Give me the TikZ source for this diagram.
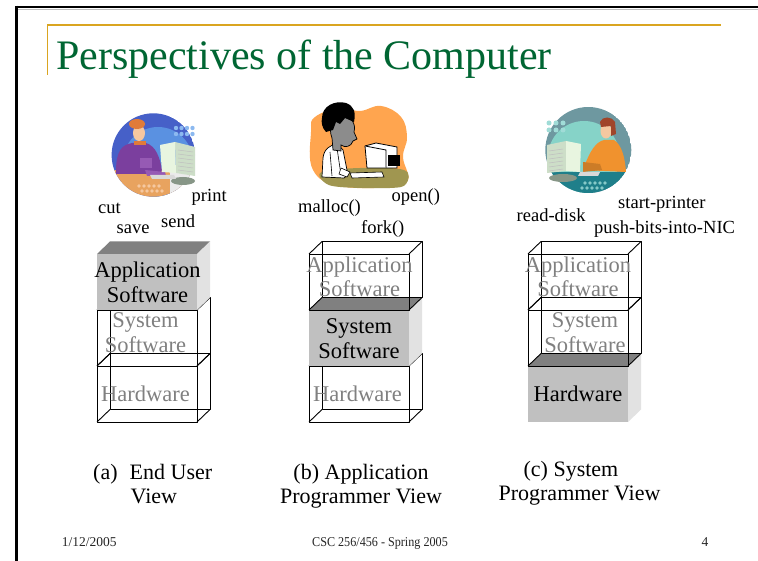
\documentclass[tikz,border=0pt]{standalone}
\usepackage{fontspec}
\setmainfont{Liberation Serif}
\definecolor{titlegreen}{RGB}{0,102,51}
\definecolor{gold}{RGB}{218,165,32}
\definecolor{facegray}{RGB}{192,192,192}
\definecolor{topgray}{RGB}{128,128,128}
\definecolor{sidegray}{RGB}{226,226,226}
\definecolor{txtgray}{RGB}{128,128,128}
\definecolor{blueA}{RGB}{70,96,200}
\definecolor{blueB}{RGB}{90,145,225}
\definecolor{blueDot}{RGB}{140,185,240}
\definecolor{tan}{RGB}{232,163,95}
\definecolor{peach}{RGB}{245,200,160}
\definecolor{purp}{RGB}{123,63,158}
\definecolor{purpL}{RGB}{150,90,180}
\definecolor{hairO}{RGB}{224,123,57}
\definecolor{pale}{RGB}{232,245,224}
\definecolor{paleD}{RGB}{205,222,200}
\definecolor{baseG}{RGB}{135,150,135}
\definecolor{orangeB}{RGB}{255,165,79}
\definecolor{olive}{RGB}{160,150,80}
\definecolor{boyface}{RGB}{140,140,140}
\definecolor{tealT}{RGB}{110,152,160}
\definecolor{aqua}{RGB}{134,211,200}
\definecolor{tealD}{RGB}{31,127,138}
\definecolor{tealDot}{RGB}{160,220,215}
\definecolor{auburn}{RGB}{160,69,42}
\definecolor{sweater}{RGB}{240,146,46}
\tikzset{
  wire/.style={draw=black,line width=0.9pt,line join=round},
  lbl/.style={font=\fontsize{22.5}{25}\selectfont,anchor=base,inner sep=0pt},
  lblg/.style={lbl,text=txtgray},
  op/.style={font=\fontsize{18.5}{20}\selectfont,anchor=base west,inner sep=0pt},
  captxt/.style={font=\fontsize{22}{25}\selectfont,anchor=base west,inner sep=0pt},
  captxtc/.style={font=\fontsize{22}{25}\selectfont,anchor=base,inner sep=0pt},
  foot/.style={font=\fontsize{13.5}{16}\selectfont,anchor=base,inner sep=0pt,text=black!85},
  wirebox/.pic={
    \draw[wire] (0,0) rectangle (100,56);
    \draw[wire] (13,-12.5) rectangle (113,43.5);
    \draw[wire] (0,0)--(13,-12.5) (100,0)--(113,-12.5) (0,56)--(13,43.5) (100,56)--(113,43.5);
  },
  shadebox/.pic={
    \fill[facegray] (0,0) rectangle (100,56);
    \fill[topgray] (0,0)--(13,-12.5)--(113,-12.5)--(100,0)--cycle;
    \fill[sidegray] (100,0)--(113,-12.5)--(113,43.5)--(100,56)--cycle;
  }
}
\begin{document}
\begin{tikzpicture}[x=1pt,y=-1pt]
\useasboundingbox (0,0) rectangle (758,561);
\fill[white] (0,0) rectangle (758,561);
% slide frame
\draw[black!25,line width=1pt] (18,9.5)--(758,9.5);
\draw[black,line width=2.7pt] (16.5,7)--(758,7);
\draw[black,line width=2.7pt] (16.5,5.7)--(16.5,561);
% gold rule
\draw[gold,line width=1.3pt] (47.5,75)--(47.5,25)--(721,25);
% title
\node[font=\fontsize{42}{46}\selectfont,text=titlegreen,anchor=base west,inner sep=0pt] (title) at (56,70) {Perspectives of the Computer};

% ---------- clip art (a) ----------
\begin{scope}
  \clip (105,100) rectangle (195.5,205);
  \clip (153.3,155) circle (41.7);
  \fill[blueA] (153.3,155) circle (41.7);
  \fill[blueB] (158,162) circle (35);
  \fill[tan] (100,170) rectangle (200,205);
  \fill[black!8] (170,172) rectangle (200,205);
\end{scope}
\foreach \i in {0,...,3}{\foreach \j in {0,1}{\fill[blueDot] (176+5.5*\i,128+6*\j) circle (2.2);}}
\foreach \i in {0,...,4}{\fill[peach] (139+5*\i,186) circle (1.8); \fill[peach] (142+5*\i,191) circle (1.8);}
% man
\fill[purp] (116,172) .. controls (116,150) and (122,145) .. (132,143) -- (146,143) .. controls (156,146) and (160,158) .. (162,170) -- (160,174) -- (116,174) -- cycle;
\fill[purpL] (140,158) rectangle (152,168);
\fill[purpL] (145,170) -- (165,172) -- (166,176) -- (147,176) -- cycle;
\fill[hairO] (134,141) rectangle (146,145);
\fill[peach] (139,133) ellipse (6 and 8);
\fill[hairO] (137,124) ellipse (8 and 5);
% monitor
\fill[baseG] (183,181) ellipse (12 and 4);
\fill[paleD] (175,142) -- (195,147) -- (195,176) -- (176,173) -- cycle;
\foreach \k in {0,...,5}{\draw[black!25,line width=0.5pt] (178,150+4*\k)--(193,152+4*\k);}
\fill[pale] (160,145) -- (175,142) -- (176,173) -- (162,172) -- cycle;
\fill[black!15] (150,175) -- (174,175) -- (176,179) -- (152,179) -- cycle;

% ---------- clip art (b) ----------
\fill[orangeB] plot[smooth cycle,tension=0.7] coordinates {(315,117) (340,108) (360,111) (381,106) (401,117) (407,137) (403,157) (408,180) (390,187) (340,186) (313,170) (311,132)};
\fill[olive] plot[smooth cycle,tension=0.6] coordinates {(322,172) (360,168) (404,170) (406,184) (390,188) (340,187) (324,182)};
% boy
\fill[white,draw=black,line width=0.7pt] (322,177) -- (323,158) .. controls (324,149) and (330,145) .. (337,144) -- (343,150) -- (348,175) -- (344,178) -- cycle;
\draw[black,line width=0.6pt] (330,152)--(332,176) (337,148)--(341,175);
\fill[boyface,draw=black,line width=0.7pt] (333,150) -- (332,138) .. controls (328,128) and (332,117) .. (343,116) .. controls (352,117) and (356,124) .. (354,132) -- (357,139) -- (353,141) .. controls (351,147) and (345,148) .. (341,145) -- (341,151) -- cycle;
\fill[black] (322,118) .. controls (322,106) and (335,100) .. (346,103) .. controls (354,106) and (356,112) .. (354,122) -- (345,118) -- (340,124) -- (336,122) -- (333,130) -- (326,132) .. controls (322,128) and (321,122) .. (322,118) -- cycle;
% monitor
\fill[white,draw=black,line width=0.8pt] (365,146) -- (376,143) -- (397,147) -- (397,168) -- (367,168) -- cycle;
\fill[white,draw=black,line width=0.8pt] (365,146) -- (386,150) -- (386,168);
\fill[black] (388,155) rectangle (400,166);
\fill[white,draw=black,line width=0.6pt] (350,173) -- (382,172) -- (384,177) -- (352,178) -- cycle;
\fill[white,draw=black,line width=0.6pt] (341,168) -- (350,172) -- (347,177) -- (339,174) -- cycle;

% ---------- clip art (c) ----------
\begin{scope}
  \clip (545,100) rectangle (640,205);
  \clip (588.3,150) circle (43);
  \fill[tealT] (588.3,150) circle (43);
  \fill[aqua] (584,157) circle (36);
  \fill[tealD] (540,172) rectangle (640,205);
\end{scope}
\foreach \i in {0,...,2}{\foreach \j in {0,1}{\fill[tealDot] (549+7*\i,123+7*\j) circle (2.5);}}
\foreach \i in {0,...,4}{\fill[tealDot!80!tealD] (585+5*\i,183) circle (1.8); \fill[tealDot!80!tealD] (582+5*\i,188) circle (1.8);}
% woman
\fill[sweater] (583,170) .. controls (590,150) and (596,142) .. (604,140) -- (614,140) .. controls (622,145) and (625,158) .. (626,172) -- cycle;
\fill[sweater!85!black] (583,162) -- (600,164) -- (602,170) -- (583,172) -- cycle;
\fill[peach] (606,131) ellipse (5.5 and 7.5);
\fill[auburn] (600,122) .. controls (602,116) and (612,116) .. (615,122) -- (616,134) -- (611,136) -- (611,126) -- (601,127) -- cycle;
% monitor
\fill[baseG] (563,178) ellipse (14 and 4);
\fill[paleD] (547,145) -- (566,141) -- (566,171) -- (547,173) -- cycle;
\foreach \k in {0,...,5}{\draw[black!25,line width=0.5pt] (549,151+4*\k)--(563,149+4*\k);}
\fill[pale] (566,141) -- (581,144) -- (580,172) -- (566,171) -- cycle;
\fill[black!15] (580,172) -- (600,172) -- (598,176) -- (578,176) -- cycle;

% operation labels
\node[op] (cut) at (98,214) {cut};
\node[op] (save) at (116.5,234) {save};
\node[op] (send) at (161,227.5) {send};
\node[op] (print) at (191.5,202) {print};
\node[op] (malloc) at (298,213) {malloc()};
\node[op] (open) at (391.5,202) {open()};
\node[op] (fork) at (361,234) {fork()};
\node[op] (readdisk) at (516.5,221.5) {read-disk};
\node[op] (startpr) at (618,209) {start-printer};
\node[op] (pushbits) at (594,234) {push-bits-into-NIC};

% ---------- cube (a) ----------
\pic at (97,310) {wirebox};
\pic at (97,366) {wirebox};
\pic at (97,254) {shadebox};
% ---------- cube (b) ----------
\pic at (309,366) {wirebox};
\pic at (309,310) {shadebox};
\pic at (309,254) {wirebox};
% ---------- cube (c) ----------
\pic at (528,366) {shadebox};
\pic at (528,254) {wirebox};
\pic at (528,310) {wirebox};

% layer labels (a)
\node[lbl] (aApp1) at (147.5,277.7) {Application};
\node[lbl] (aApp2) at (147.5,302.7) {Software};
\node[lblg] (aSys1) at (145.5,327.7) {System};
\node[lblg] (aSys2) at (145.5,352.2) {Software};
\node[lblg] (aHw) at (145.5,401.7) {Hardware};
% layer labels (b)
\node[lblg] (bApp1) at (359.5,272.7) {Application};
\node[lblg] (bApp2) at (359.5,296.7) {Software};
\node[lbl] (bSys1) at (359,333.3) {System};
\node[lbl] (bSys2) at (359,358.3) {Software};
\node[lblg] (bHw) at (357.5,401.7) {Hardware};
% layer labels (c)
\node[lblg] (cApp1) at (578,272.7) {Application};
\node[lblg] (cApp2) at (578,296.7) {Software};
\node[lblg] (cSys1) at (585,328) {System};
\node[lblg] (cSys2) at (585,352.7) {Software};
\node[lbl] (cHw) at (578,402) {Hardware};

% captions
\node[captxt] (capa1) at (93,479) {(a)\hspace{0.55em}End User};
\node[captxt] (capa2) at (130.5,503.5) {View};
\node[captxtc] (capb1) at (361,479) {(b) Application};
\node[captxtc] (capb2) at (361,503.5) {Programmer View};
\node[captxtc] (capc1) at (571,476) {(c) System};
\node[captxtc] (capc2) at (579.5,500.5) {Programmer View};

% footer
\node[foot,anchor=base west] (fdate) at (61.7,546.5) {1/12/2005};
\node[foot] (fcourse) at (380,546.5) {\scalebox{0.9}[1]{CSC 256/456 - Spring 2005}};
\node[foot] (fpage) at (705,546.5) {4};
\end{tikzpicture}
\end{document}
